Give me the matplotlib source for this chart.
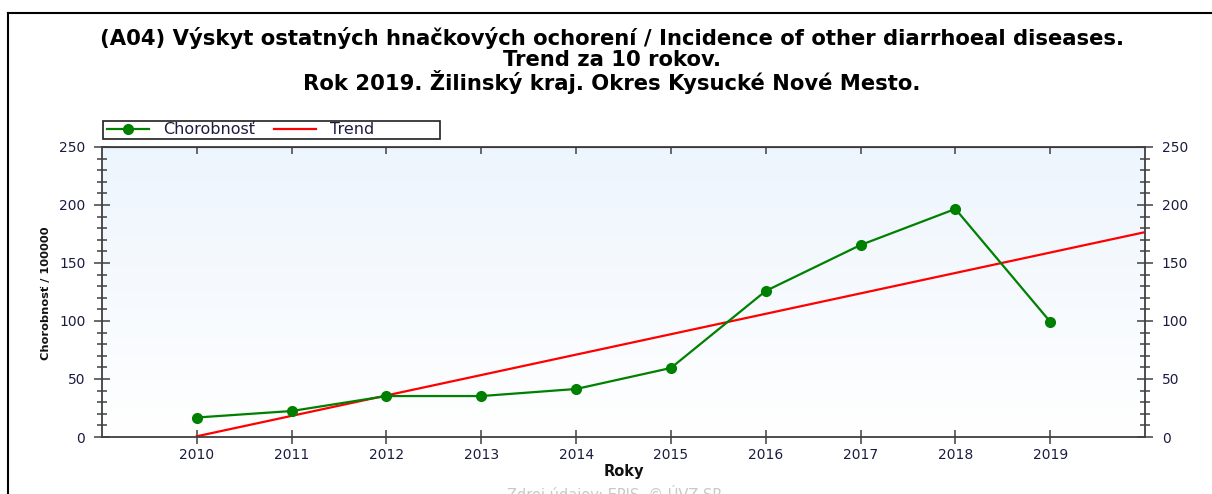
import numpy as np
import matplotlib
matplotlib.use("Agg")
import matplotlib.pyplot as plt
from matplotlib.lines import Line2D
from matplotlib.patches import Rectangle
from matplotlib.ticker import MultipleLocator

plt.rcParams['font.family'] = ['DejaVu Sans']

# data
years = [2010, 2011, 2012, 2013, 2014, 2015, 2016, 2017, 2018, 2019]
chorobnost = [16.8, 22.4, 35.3, 35.3, 41.4, 59.5, 125.9, 165.5, 196.6, 99.4]

title_lines = [
    "(A04) Výskyt ostatných hnačkových ochorení / Incidence of other diarrhoeal diseases.",
    "Trend za 10 rokov.",
    "Rok 2019. Žilinský kraj. Okres Kysucké Nové Mesto.",
]

text_col = '#1c1c40'
spine_col = '#404040'
W, H = 1212, 494

fig = plt.figure(figsize=(12.12, 4.94), dpi=100)
ax = fig.add_axes([102 / W, 1 - 437 / H, (1145 - 102) / W, (437 - 147) / H])

# gradient background (light blue at the top, white at the bottom)
grad = np.linspace(0, 1, 256).reshape(-1, 1)
top_c = np.array([0.93, 0.96, 0.993])
bot_c = np.array([1.0, 1.0, 1.0])
img = bot_c + (top_c - bot_c) * grad
ax.imshow(img[:, None, :].repeat(2, axis=1), extent=[2009, 2020, 0, 250], origin='lower',
          aspect='auto', zorder=0)

# trend = least squares line through the data, drawn to the end of the axis
coef = np.polyfit(years, chorobnost, 1)
trend_x = np.array([years[0], 2020])
ax.plot(trend_x, np.polyval(coef, trend_x), color='red', lw=1.6, zorder=2)
ax.plot(years, chorobnost, color='#008000', lw=1.6, marker='o', ms=7, zorder=3)

ax.set_xlim(2009, 2020)
ax.set_ylim(0, 250)
ax.set_xticks(years)
ax.set_xticklabels([str(y) for y in years])
ax.yaxis.set_major_locator(MultipleLocator(50))
ax.yaxis.set_minor_locator(MultipleLocator(10))

for s in ax.spines.values():
    s.set_color(spine_col)
    s.set_linewidth(1.3)

ax.tick_params(axis='y', which='both', direction='inout', left=True, right=True,
               labelleft=True, labelright=True, colors=spine_col, labelcolor=text_col,
               labelsize=10, width=1.1)
ax.tick_params(axis='y', which='major', length=12, pad=6)
ax.tick_params(axis='y', which='minor', length=7)
ax.tick_params(axis='x', which='major', direction='inout', length=10, width=1.1,
               colors=spine_col, labelcolor=text_col, labelsize=10, pad=3)

top = ax.secondary_xaxis('top')
top.set_xticks(years)
top.tick_params(direction='in', length=5, width=1.1, colors=spine_col, labeltop=False)

ax.set_xlabel("Roky", fontsize=10.5, fontweight='bold', color='#111111', labelpad=1)
fig.text(46 / W, 1 - 293 / H, "Chorobnosť / 100000", rotation=90, ha='center', va='center',
         fontsize=8.2, fontweight='bold', color='#111111')

for i, line in enumerate(title_lines):
    fig.text(612 / W, 1 - (38 + 22 * i) / H, line, ha='center', va='center',
             fontsize=15.2, fontweight='bold', color='#000000')

# legend: entries without frame, box drawn separately to keep the wide empty right part
handles = [Line2D([], [], color='#008000', lw=1.6, marker='o', ms=7),
           Line2D([], [], color='red', lw=1.6)]
leg = fig.legend(handles, ["Chorobnosť", "Trend"], loc='center left', ncol=2,
                 bbox_to_anchor=(107 / W, 1 - 130 / H), bbox_transform=fig.transFigure,
                 frameon=False, borderaxespad=0, borderpad=0, handlelength=2.6,
                 fontsize=11.5, handletextpad=0.9, columnspacing=1.2)
for t in leg.get_texts():
    t.set_color(text_col)
fig.add_artist(Rectangle((103 / W, 1 - 139 / H), 337 / W, 18 / H, transform=fig.transFigure,
                         facecolor='none', edgecolor='#202020', lw=1.2))

fig.text(615 / W, 1 - 485 / H, "Zdroj údajov: EPIS, © ÚVZ SR", ha='center', va='top',
         fontsize=10.5, color='#c8c8c8')

# frame lines of the picture (top and left)
fig.add_artist(Line2D([8 / W, 1], [1 - 13 / H] * 2, color='black', lw=1.5,
                      transform=fig.transFigure))
fig.add_artist(Line2D([8 / W] * 2, [0, 1 - 13 / H], color='black', lw=1.5,
                      transform=fig.transFigure))

fig.savefig("out.png", dpi=100)
